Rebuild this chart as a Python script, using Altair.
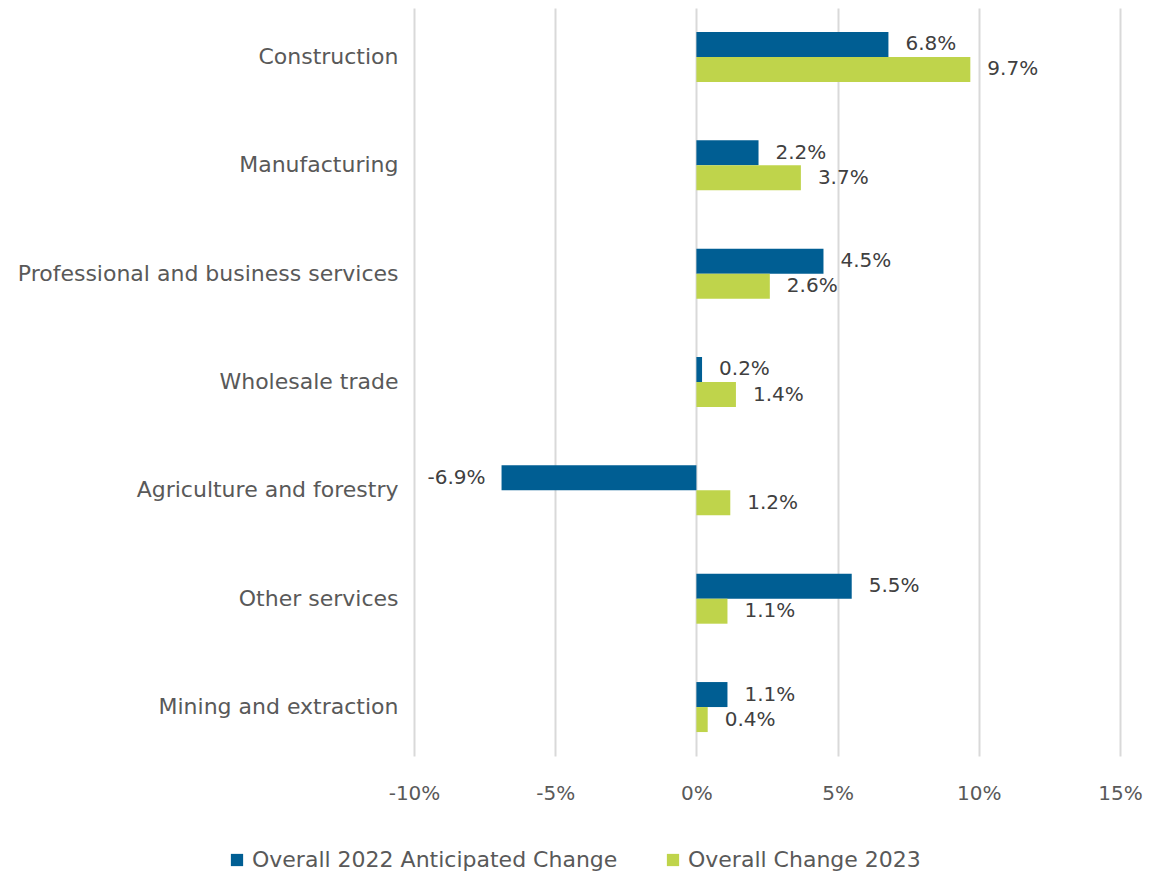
import altair as alt
import pandas as pd

categories = [
    "Construction",
    "Manufacturing",
    "Professional and business services",
    "Wholesale trade",
    "Agriculture and forestry",
    "Other services",
    "Mining and extraction",
]
anticipated_2022 = [6.8, 2.2, 4.5, 0.2, -6.9, 5.5, 1.1]
change_2023 = [9.7, 3.7, 2.6, 1.4, 1.2, 1.1, 0.4]
series_names = ["Overall 2022 Anticipated Change", "Overall Change 2023"]
series_colors = ["#005E93", "#BFD44B"]
x_ticks = [-10, -5, 0, 5, 10, 15]

rows = []
for c, a, b in zip(categories, anticipated_2022, change_2023):
    rows.append({"category": c, "series": series_names[0], "value": a, "label": f"{a:.1f}%"})
    rows.append({"category": c, "series": series_names[1], "value": b, "label": f"{b:.1f}%"})
df = pd.DataFrame(rows)

FONT = "DejaVu Sans"
GRAY = "#595959"

y_enc = alt.Y(
    "category:N",
    sort=categories,
    scale=alt.Scale(paddingInner=0.5385, paddingOuter=0.221),
    axis=alt.Axis(
        title=None, domain=False, ticks=False, labelFontSize=22, labelColor=GRAY,
        labelFont=FONT, labelPadding=16, minExtent=406, maxExtent=406, labelLimit=500,
    ),
)
x_enc = alt.X(
    "value:Q",
    scale=alt.Scale(domain=[-10, 15], nice=False),
    axis=alt.Axis(
        title=None, values=x_ticks, labelExpr="datum.value + '%'", domain=False,
        ticks=False, grid=True, gridColor="#D9D9D9", gridWidth=2, labelFlush=False,
        labelFontSize=20, labelColor=GRAY, labelFont=FONT, labelPadding=27,
    ),
)
yoff = alt.YOffset("series:N", sort=series_names, scale=alt.Scale(domain=series_names, paddingInner=0, paddingOuter=0))

base = alt.Chart(df)

bars = base.mark_bar().encode(
    y=y_enc,
    x=x_enc,
    yOffset=yoff,
    color=alt.Color(
        "series:N",
        scale=alt.Scale(domain=series_names, range=series_colors),
        legend=alt.Legend(
            title=None, orient="none", direction="horizontal", legendX=-188, legendY=841,
            symbolType="square", symbolSize=150, symbolStrokeWidth=0, labelFontSize=22,
            labelColor=GRAY, labelFont=FONT, columnPadding=44, symbolOffset=0, labelOffset=4,
            labelLimit=600, padding=0,
        ),
    ),
)

pos_text = base.transform_filter("datum.value >= 0").mark_text(
    align="left", baseline="middle", dx=17, fontSize=20, color="#404040", font=FONT
).encode(y=alt.Y("category:N", sort=categories), x="value:Q", yOffset=yoff, text="label:N")

neg_text = base.transform_filter("datum.value < 0").mark_text(
    align="right", baseline="middle", dx=-16, fontSize=20, color="#404040", font=FONT
).encode(y=alt.Y("category:N", sort=categories), x="value:Q", yOffset=yoff, text="label:N")

chart = (
    alt.layer(bars, pos_text, neg_text)
    .properties(width=706, height=748, padding=0)
    .configure_view(stroke=None)
)

chart.save("out.html", embed_options={"renderer": "svg", "actions": False})
